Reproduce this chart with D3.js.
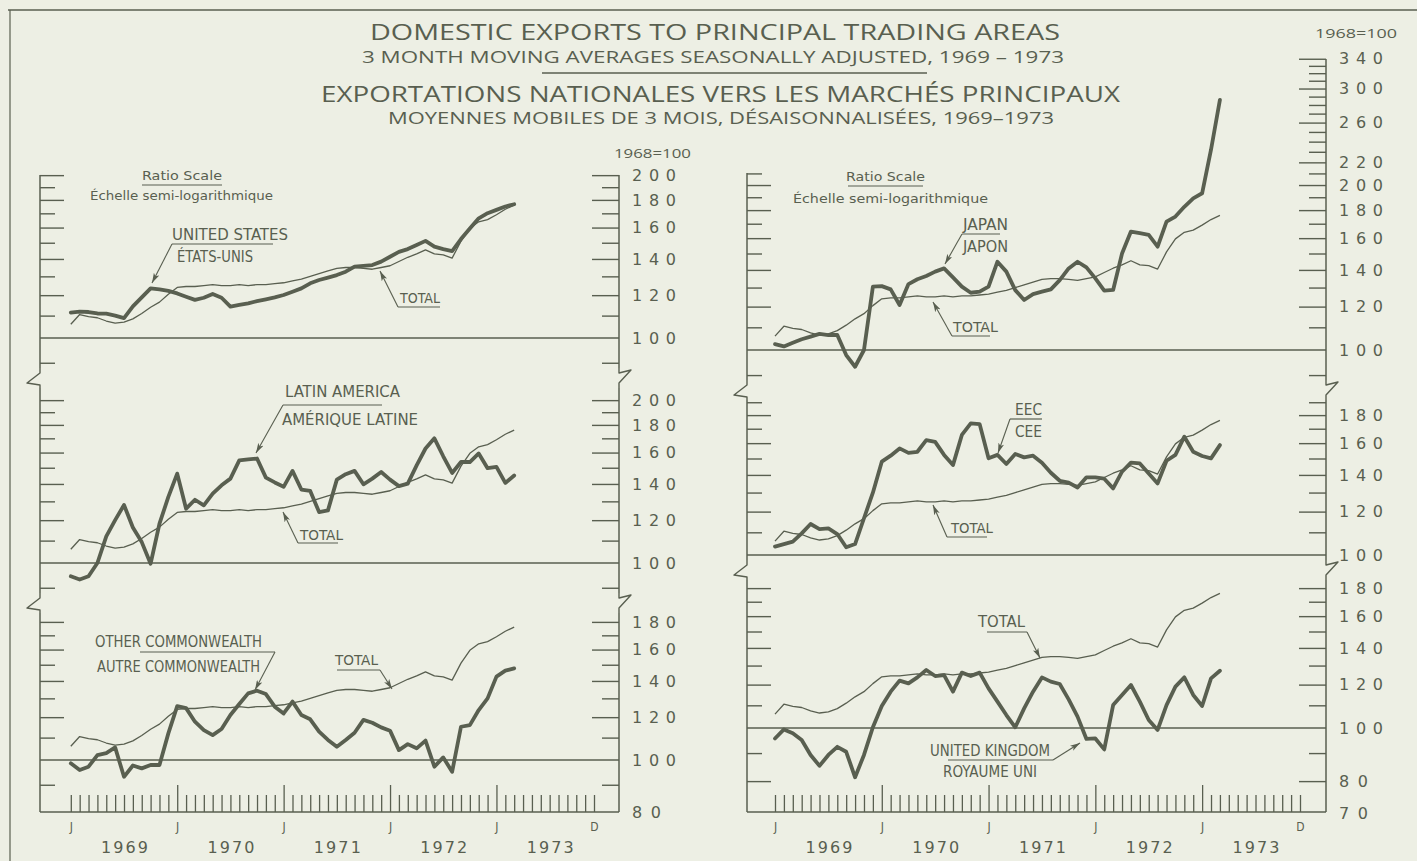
<!DOCTYPE html>
<html><head><meta charset="utf-8">
<script src="https://cdn.jsdelivr.net/npm/d3@7"></script>
<style>
body{margin:0;background:#edefe4;}
svg{display:block;}
</style></head>
<body><svg id="c" width="1417" height="861"></svg>
<script>
// ---------------- DATA (1968 = 100, monthly, Jan 1969 .. Mar 1973) ----------------
const startYear = 1969;
const total = [106,110.5,109.5,109,107.5,106.5,107,108.5,111,114,116.5,120.5,124,124.5,124.5,125,125.5,125,125,125.5,125,125.5,125.5,126,126.5,127.5,128.5,130,131.5,133,134.5,135,135,134.5,134,135,136,138.5,141,143,145.5,143,142.5,140.5,151,159.5,164,165.5,169,173,176];
const unitedStates = [111.4,111.9,111.7,111,110.9,110,108.8,114.4,118.9,123.5,123,122.2,120.9,119.2,117.6,118.7,120.6,118.7,114.3,115.1,115.9,117,117.9,118.9,120.1,121.8,123.5,126.2,128,129.3,130.7,132.6,135.5,135.9,136.4,138.4,141.3,144.3,146,148.6,151.2,147.5,146,144.8,152.4,159.4,166.4,170.1,172.5,175,176.7];
const latinAmerica = [94.5,93.2,94.5,100,112,120,128,116.3,109.3,99.7,118.2,132.5,146.3,126,130.9,127.8,134.3,139.2,143.2,154.8,155.4,156,143.8,140.9,138.3,148,136.7,135.9,124.2,125.1,142.6,145.9,148,139.8,143.2,147.3,142.6,138.7,140.2,151.5,162.8,170,157.5,146.7,153.7,153.7,159.4,149.7,150.6,140.6,145.1];
const otherCommonwealth = [98.6,95.8,97.2,102.1,103,105.5,93.1,97.7,96.5,97.9,97.9,112,125.8,124.7,117.7,113.6,111.2,114.1,121.1,126.9,132.8,134.3,132.4,125.5,121.9,128.2,121.1,118.9,112.8,108.9,105.8,108.9,112.3,118.6,117.2,114.9,113.3,104.3,107,105.1,108.6,97.2,101.1,95.1,115.2,116,123.7,130,142.6,146.3,147.7];
const japan = [102.5,101.5,103.1,104.6,105.8,107,106.5,106.5,97.9,93.2,100,130.5,130.8,129,120.8,131.9,134.6,136.5,139,140.9,135.7,130.5,127.2,127.8,130.5,144.9,139,128.6,123.4,126.5,127.8,129,134.1,140.9,144.9,141.5,135.1,128.3,128.7,150,164.5,163.4,162.2,154.4,171.5,175.2,182.5,189.1,193.2,232,286];
const eec = [103.6,104.7,105.8,109.5,113.9,111.5,111.8,109.2,103.3,104.7,116.7,129.9,148,151.8,156.5,153.6,154.3,162,160.9,152.3,145.9,165.6,173.8,173.3,150.1,152.3,146.6,152.9,150.7,151.8,147.4,141.3,136.6,135.5,132.8,138.6,138.6,137.8,132.3,141.9,147.4,146.9,140.9,135.1,148.6,152.3,164.4,154.3,151.6,150.1,158.7];
const unitedKingdom = [95.7,99.4,97.8,95.1,89.3,85.3,89.3,92.4,90.5,81.3,89.3,100.3,109.7,116.5,122,120.6,123.7,127.6,124.4,124.9,116.5,126.2,124.4,126.2,118.1,111.7,105.6,100.3,108.6,116.5,123.7,121.5,120.3,112.8,104.9,95.5,95.7,91.4,110.1,114.9,119.8,111.7,103.4,99.2,110.1,119,123.7,114.9,109.7,123.2,127.2];

const yearLabels = ["1969","1970","1971","1972","1973"];
const monthLetters = ["J","J","J","J","J","D"];
const tlLabels = [100,120,140,160,180,200];
const mlLabels = [100,120,140,160,180,200];
const blLabels = [80,100,120,140,160,180];
const trLabels = [100,120,140,160,180,200,220,260,300,340];
const mrLabels = [100,120,140,160,180];
const brLabels = [70,80,100,120,140,160,180];

// ---------------- LAYOUT ----------------
const ink = "#595f50";
const svg = d3.select("#c");
svg.append("rect").attr("width",1417).attr("height",861).attr("fill","#edefe4");

const cols = [
  {xL:40, xR:619, x0:70.8, x1:594},
  {xL:747, xR:1326, x0:775, x1:1300}
];
cols.forEach(c => { c.x = d3.scaleLinear().domain([0,59]).range([c.x0,c.x1]); });

const panels = [
  {col:0, y100:338, k:541, top:175, rtop:175, bottom:378, minorL:d3.range(90,201,10), minorR:d3.range(90,201,10), labels:tlLabels, breakTop:false, breakBottom:true, axisBottom:false, series:unitedStates},
  {col:0, y100:563, k:541, top:378, rtop:378, bottom:603, minorL:d3.range(90,201,10), minorR:d3.range(90,201,10), labels:mlLabels, breakTop:true, breakBottom:true, axisBottom:false, series:latinAmerica},
  {col:0, y100:760, k:541, top:603, rtop:603, bottom:812, minorL:d3.range(90,181,10), minorR:d3.range(90,181,10), labels:blLabels, breakTop:true, breakBottom:false, axisBottom:true, series:otherCommonwealth},
  {col:1, y100:350, k:548, top:173, rtop:59, bottom:390, minorL:d3.range(90,211,10), minorR:d3.range(90,341,10), labels:trLabels, breakTop:false, breakBottom:true, axisBottom:false, series:japan},
  {col:1, y100:555, k:548, top:390, rtop:390, bottom:570, minorL:d3.range(110,191,10), minorR:d3.range(110,191,10), labels:mrLabels, breakTop:true, breakBottom:true, axisBottom:false, series:eec},
  {col:1, y100:728, k:548, top:570, rtop:570, bottom:812, minorL:d3.range(80,181,10), minorR:d3.range(80,181,10), labels:brLabels, breakTop:true, breakBottom:false, axisBottom:true, series:unitedKingdom}
];

const defs = svg.append("defs");
defs.append("marker").attr("id","arr").attr("viewBox","0 0 10 6").attr("refX",10).attr("refY",3)
  .attr("markerWidth",10).attr("markerHeight",6).attr("markerUnits","userSpaceOnUse").attr("orient","auto")
  .append("path").attr("d","M0,0 L10,3 L0,6 L2.5,3 Z").attr("fill",ink);

// frame (scan border)
svg.append("line").attr("x1",8).attr("x2",1417).attr("y1",10).attr("y2",10).attr("stroke",ink).attr("stroke-width",1.6);
svg.append("line").attr("x1",10).attr("x2",10).attr("y1",10).attr("y2",861).attr("stroke",ink).attr("stroke-width",1.2);

function zig(g, x, b, side){
  // axis-break symbol at y=b ; side = -1 left axis (juts out left), 1 right axis (juts out right)
  const d = side < 0
    ? `M${x},${b-10} L${x},${b-5} L${x-13},${b+5} L${x},${b+7} L${x},${b+10}`
    : `M${x},${b-10} L${x},${b-5} L${x+12},${b-8} L${x},${b+5} L${x},${b+10}`;
  g.append("path").attr("d",d).attr("fill","none").attr("stroke",ink).attr("stroke-width",1.4).attr("stroke-linejoin","round");
}

panels.forEach(p => {
  const c = cols[p.col];
  const lo = 100*Math.pow(10,(p.y100-p.bottom)/p.k);
  const hi = 100*Math.pow(10,(p.y100-p.rtop)/p.k);
  p.y = d3.scaleLog().domain([lo,hi]).range([p.bottom,p.rtop]);
  const g = svg.append("g");

  // axis lines
  const yTopL = p.breakTop ? p.top+10 : p.top;
  const yTopR = p.breakTop ? p.rtop+10 : p.rtop;
  const yBot = p.breakBottom ? p.bottom-10 : p.bottom;
  g.append("line").attr("x1",c.xL).attr("x2",c.xL).attr("y1",yTopL).attr("y2",yBot).attr("stroke",ink).attr("stroke-width",1.5);
  g.append("line").attr("x1",c.xR).attr("x2",c.xR).attr("y1",yTopR).attr("y2",yBot).attr("stroke",ink).attr("stroke-width",1.5);
  if (p.breakBottom){ zig(g,c.xL,p.bottom,-1); zig(g,c.xR,p.bottom,1); }

  // 100 line
  g.append("line").attr("x1",c.xL).attr("x2",c.xR).attr("y1",p.y(100)).attr("y2",p.y(100)).attr("stroke",ink).attr("stroke-width",1.5);

  // left ticks
  const minorL = p.minorL.filter(v => !p.labels.includes(v) && v!==100);
  const majorL = p.minorL.filter(v => p.labels.includes(v) && v!==100);
  [[minorL,15],[majorL,24]].forEach(([vals,len]) => {
    const ax = d3.axisRight(p.y).tickValues(vals).tickSize(len).tickFormat("");
    const a = g.append("g").attr("transform",`translate(${c.xL},0)`).call(ax);
    a.select(".domain").remove();
    a.selectAll("line").attr("stroke",ink).attr("stroke-width",1.4);
  });
  // right ticks (pointing inward)
  const minorR = p.minorR.filter(v => !p.labels.includes(v) && v!==100);
  const majorR = p.minorR.filter(v => p.labels.includes(v) && v!==100);
  [[minorR,-17],[majorR,-27]].forEach(([vals,len]) => {
    const ax = d3.axisRight(p.y).tickValues(vals).tickSizeInner(len).tickSizeOuter(0).tickFormat("");
    const a = g.append("g").attr("transform",`translate(${c.xR},0)`).call(ax);
    a.select(".domain").remove();
    a.selectAll("line").attr("stroke",ink).attr("stroke-width",1.4);
  });
  // right labels
  const axL = d3.axisRight(p.y).tickValues(p.labels).tickSize(0).tickPadding(13).tickFormat(d3.format("d"));
  const al = g.append("g").attr("transform",`translate(${c.xR},0)`).call(axL);
  al.select(".domain").remove();
  al.selectAll("text").attr("fill",ink).attr("font-family","'DejaVu Sans', sans-serif").attr("font-size",16)
    .attr("textLength",d => String(d).length===3 ? 44 : 29).attr("lengthAdjust","spacing");

  // x axis
  if (p.axisBottom){
    const yb = p.bottom;
    g.append("line").attr("x1",c.xL).attr("x2",c.xR).attr("y1",yb).attr("y2",yb).attr("stroke",ink).attr("stroke-width",1.5);
    const allM = d3.range(0,60).filter(m => !(m%12===0 && m>0));
    const janM = [12,24,36,48];
    [[allM,-17],[janM,-27]].forEach(([vals,len]) => {
      const ax = d3.axisBottom(c.x).tickValues(vals).tickSizeInner(len).tickSizeOuter(0).tickFormat("");
      const a = g.append("g").attr("transform",`translate(0,${yb})`).call(ax);
      a.select(".domain").remove();
      a.selectAll("line").attr("stroke",ink).attr("stroke-width",1.3);
    });
    const axJ = d3.axisBottom(c.x).tickValues([0,12,24,36,48,59]).tickSize(0).tickPadding(10).tickFormat((d,i)=>monthLetters[i]);
    const aj = g.append("g").attr("transform",`translate(0,${yb})`).call(axJ);
    aj.select(".domain").remove();
    aj.selectAll("text").attr("fill",ink).attr("font-family","'Liberation Sans Narrow','DejaVu Sans Condensed',sans-serif").attr("font-size",12);
    const axY = d3.axisBottom(c.x).tickValues([6,18,30,42,54]).tickSize(0).tickPadding(30).tickFormat((d,i)=>yearLabels[i]);
    const ay = g.append("g").attr("transform",`translate(0,${yb})`).call(axY);
    ay.select(".domain").remove();
    ay.selectAll("text").attr("fill",ink).attr("font-family","'DejaVu Sans',sans-serif").attr("font-size",16)
      .attr("textLength",47).attr("lengthAdjust","spacing");
  }

  // series
  const line = d3.line().x((d,i)=>c.x(i)).y(d=>p.y(d));
  g.append("path").datum(total).attr("d",line).attr("fill","none").attr("stroke",ink).attr("stroke-width",1.3).attr("stroke-linejoin","round");
  g.append("path").datum(p.series).attr("d",line).attr("fill","none").attr("stroke",ink).attr("stroke-width",3.8).attr("stroke-linejoin","round").attr("stroke-linecap","round");
});

// ---------------- TEXT ----------------
const narrow = "'Liberation Sans Narrow','DejaVu Sans Condensed',sans-serif";
function txt(s, x, y, size, len, opts={}){
  const t = svg.append("text").attr("x",x).attr("y",y).text(s).attr("fill",ink)
    .attr("font-family",opts.family||narrow).attr("font-size",size);
  if (len) t.attr("textLength",len).attr("lengthAdjust","spacingAndGlyphs");
  if (opts.anchor) t.attr("text-anchor",opts.anchor);
  if (opts.weight) t.attr("font-weight",opts.weight);
  return t;
}
function rule(x1,y1,x2,y2,w=1.2){ svg.append("line").attr("x1",x1).attr("y1",y1).attr("x2",x2).attr("y2",y2).attr("stroke",ink).attr("stroke-width",w); }
function arrow(x1,y1,x2,y2){ svg.append("line").attr("x1",x1).attr("y1",y1).attr("x2",x2).attr("y2",y2).attr("stroke",ink).attr("stroke-width",1.1).attr("marker-end","url(#arr)"); }

const title = "'Open Sans','DejaVu Sans',sans-serif";
txt("DOMESTIC EXPORTS TO PRINCIPAL TRADING AREAS", 370, 40, 21, 690, {family:title});
txt("3 MONTH MOVING AVERAGES SEASONALLY ADJUSTED, 1969 – 1973", 362, 63, 16, 702, {family:title});
rule(542,73,927,73,1.3);
txt("EXPORTATIONS NATIONALES VERS LES MARCHÉS PRINCIPAUX", 321, 102, 21, 799, {family:title});
txt("MOYENNES MOBILES DE 3 MOIS, DÉSAISONNALISÉES, 1969–1973", 388, 124, 16, 666, {family:title});
txt("1968=100", 1315, 38, 13, 82, {family:title});
txt("1968=100", 614, 158, 13, 77, {family:title});

// top-left
txt("Ratio Scale",142,180,13,80); rule(142,185,222,185);
txt("Échelle semi-logarithmique",90,200,13,183);
txt("UNITED STATES",172,240,15,116); rule(172,244,273,244); arrow(172,244,152,283);
txt("ÉTATS-UNIS",177,262,15,76);
txt("TOTAL",400,303,14,40); rule(398,307,440,307); arrow(398,307,380,271);
// middle-left
txt("LATIN AMERICA",285,397,15,115); rule(283,405,382,405); arrow(283,405,256,453);
txt("AMÉRIQUE LATINE",282,425,15,136);
txt("TOTAL",300,540,14,43); rule(298,543,338,543); arrow(298,543,283,512);
// bottom-left
txt("OTHER COMMONWEALTH",95,647,15,167); rule(140,652,275,652); arrow(275,652,255,690);
txt("AUTRE COMMONWEALTH",97,672,15,163);
txt("TOTAL",335,665,14,43); rule(337,670,380,670); arrow(380,670,392,689);
// top-right
txt("Ratio Scale",846,181,13,79); rule(848,186,923,186);
txt("Échelle semi-logarithmique",793,203,13,195);
txt("JAPAN",963,230,15,45); rule(962,234,1000,234); arrow(962,234,945,264);
txt("JAPON",963,252,15,45);
txt("TOTAL",953,332,14,45); rule(952,336,990,336); arrow(952,336,933,302);
// middle-right
txt("EEC",1015,415,15,27); rule(1010,419,1042,419); arrow(1010,419,998,453);
txt("CEE",1015,437,15,27);
txt("TOTAL",951,533,14,42); rule(947,537,987,537); arrow(947,537,933,505);
// bottom-right
txt("TOTAL",978,627,15,47); rule(987,632,1027,632); arrow(1027,632,1040,658);
txt("UNITED KINGDOM",930,756,15,120); rule(948,760,1053,760); arrow(1053,760,1080,743);
txt("ROYAUME UNI",943,777,15,94);
</script></body></html>
